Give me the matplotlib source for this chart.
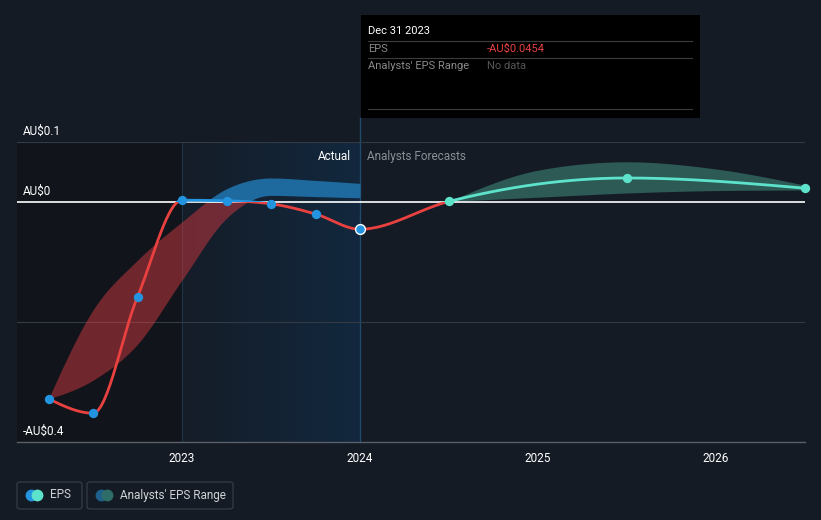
"""EPS history and analyst forecast chart, dark theme."""

import matplotlib

matplotlib.use("Agg")
import numpy as np
from matplotlib import pyplot as plt
from matplotlib.colors import LinearSegmentedColormap
from matplotlib.lines import Line2D
from matplotlib.patches import FancyBboxPatch, Rectangle

plt.rcParams["font.family"] = ["Roboto", "DejaVu Sans"]

# EPS (AU$), decimal years
eps_dates = [2022.25, 2022.5, 2022.75, 2023.0, 2023.25, 2023.5, 2023.75, 2024.0]
eps_values = [-0.328, -0.352, -0.158, 0.003, 0.002, -0.003, -0.020, -0.0454]

forecast_dates = [2024.0, 2024.5, 2025.5, 2026.5]
forecast_values = [-0.0454, 0.001, 0.040, 0.023]

# analysts' EPS range, past
range_dates = [2022.25, 2022.5, 2022.75, 2023.0, 2023.25, 2023.5, 2023.75, 2024.0]
range_high = [-0.328, -0.180, -0.097, -0.033, 0.022, 0.040, 0.036, 0.031]
range_low = [-0.328, -0.297, -0.237, -0.130, -0.027, 0.011, 0.009, 0.007]

# analysts' EPS range, forecast
frange_dates = [2024.5, 2025.0, 2025.5, 2026.0, 2026.5]
frange_high = [0.001, 0.053, 0.067, 0.055, 0.028]
frange_low = [0.001, 0.008, 0.015, 0.019, 0.020]

y_ticks = [0.1, 0.0, -0.4]
y_labels = ["AU$0.1", "AU$0", "-AU$0.4"]
x_ticks = [2023, 2024, 2025, 2026]

BG = "#151b24"
RED = "#e8413f"
BLUE = "#2394e0"
TEAL = "#5de3cb"
W, H = 821, 520


def smooth(xs, ys, n=300):
    """Monotone cubic curve through the points (like d3 curveMonotoneX)."""
    xs = np.asarray(xs, float)
    ys = np.asarray(ys, float)
    h = np.diff(xs)
    s = np.diff(ys) / h
    m = np.zeros_like(ys)
    for i in range(1, len(xs) - 1):
        p = (s[i - 1] * h[i] + s[i] * h[i - 1]) / (h[i - 1] + h[i])
        m[i] = (np.sign(s[i - 1]) + np.sign(s[i])) * min(
            abs(s[i - 1]), abs(s[i]), 0.5 * abs(p)
        )
    m[0] = (3 * s[0] - m[1]) / 2 if len(xs) > 2 else s[0]
    m[-1] = (3 * s[-1] - m[-2]) / 2 if len(xs) > 2 else s[-1]
    out_x, out_y = [], []
    for i in range(len(xs) - 1):
        t = np.linspace(0, 1, n // (len(xs) - 1) + 2)
        h00 = 2 * t**3 - 3 * t**2 + 1
        h10 = t**3 - 2 * t**2 + t
        h01 = -2 * t**3 + 3 * t**2
        h11 = t**3 - t**2
        out_x.append(xs[i] + t * h[i])
        out_y.append(h00 * ys[i] + h10 * h[i] * m[i] + h01 * ys[i + 1] + h11 * h[i] * m[i + 1])
    return np.concatenate(out_x), np.concatenate(out_y)


def px(x):
    return x / W


def py(y):
    return 1 - y / H


fig = plt.figure(figsize=(W / 100, H / 100), dpi=100, facecolor=BG)
ax = fig.add_axes([px(17), py(442), px(805) - px(17), py(142) - py(442)])
ax.set_facecolor(BG)
x_min, x_max = 2022.073, 2026.5
ax.set_xlim(x_min, x_max)
ax.set_ylim(-0.4, 0.1)

# background zones
ax.axvspan(x_min, 2023, color="#11151b", zorder=0, lw=0)
grad = LinearSegmentedColormap.from_list("hl", ["#151d28", "#12283e"])
ax.imshow(
    np.linspace(0, 1, 256).reshape(1, -1),
    extent=[2023, 2024, -0.4, 0.1],
    cmap=grad,
    aspect="auto",
    zorder=0.5,
)
ax.axvline(2023, color="#1d3447", lw=0.8, zorder=0.6)
ax.axvline(2024, ymin=0, ymax=(442 - 118) / 300, color="#1f4a6d", lw=1, zorder=0.6, clip_on=False)

for yv in (0.1, -0.2):
    ax.axhline(yv, color="#343a44", lw=0.8, zorder=1)
ax.axhline(-0.4, color="#5a5f68", lw=1, zorder=1, clip_on=False)
ax.axhline(0, color="white", lw=1.2, zorder=3)

below = Rectangle((x_min, -1), 10, 1, transform=ax.transData)
above_past = Rectangle((x_min, 0), 2024 - x_min, 1, transform=ax.transData)
above_fc = Rectangle((2024, 0), 5, 1, transform=ax.transData)

# past analyst range, coloured by sign
bx, bh = smooth(range_dates, range_high)
_, bl = smooth(range_dates, range_low)
band_red = ax.fill_between(bx, bl, bh, color="#dc3a42", alpha=0.47, lw=0, zorder=2)
band_red.set_clip_path(below)
band_blue = ax.fill_between(bx, bl, bh, color="#1e6a9e", lw=0, zorder=2)
band_blue.set_clip_path(above_past)

# forecast analyst range
fx, fh = smooth(frange_dates, frange_high)
_, fl = smooth(frange_dates, frange_low)
ax.fill_between(fx, fl, fh, color="#2d5a55", lw=0, zorder=2)

# EPS line, coloured by sign
ex, ey = smooth(eps_dates + forecast_dates[1:], eps_values + forecast_values[1:])
for color, clip in ((RED, below), (BLUE, above_past), (TEAL, above_fc)):
    (line,) = ax.plot(ex, ey, color=color, lw=2, zorder=4, solid_capstyle="round")
    line.set_clip_path(clip)

ax.scatter(eps_dates[:-1], eps_values[:-1], s=45, color=BLUE, zorder=5, lw=0)
ax.scatter(eps_dates[-1:], eps_values[-1:], s=50, color=BLUE, edgecolor="white", lw=1, zorder=6)
ax.scatter(forecast_dates[1:], forecast_values[1:], s=45, color=TEAL, zorder=5, lw=0, clip_on=False)

for side in ax.spines.values():
    side.set_visible(False)
ax.set_yticks([])
ax.set_xticks(x_ticks, [str(t) for t in x_ticks])
ax.tick_params(axis="x", length=0, pad=7, colors="white", labelsize=8.5)

for yv, label in zip(y_ticks, y_labels):
    ax.text(0.007, yv + 0.012, label, transform=ax.get_yaxis_transform(),
            color="white", fontsize=8.5, va="baseline", ha="left", zorder=7)

ax.text(2024 - 0.05, 0.076, "Actual", color="white", fontsize=8.5, ha="right", va="center")
ax.text(2024 + 0.04, 0.076, "Analysts Forecasts", color="#8a8f96", fontsize=8.5,
        ha="left", va="center")

# tooltip
fig.add_artist(Rectangle((px(361), py(118)), px(700) - px(361), py(15) - py(118),
                         transform=fig.transFigure, facecolor="black", edgecolor="none"))
for yl in (41, 58, 109):
    fig.add_artist(Line2D([px(368), px(692)], [py(yl), py(yl)], transform=fig.transFigure,
                          color="#3c3c3c", lw=0.8))
fig.text(px(368), py(31), "Dec 31 2023", color="white", fontsize=8, va="center")
fig.text(px(368), py(49), "EPS", color="#8a8a8a", fontsize=8, va="center")
fig.text(px(487), py(49), "-AU$0.0454", color="#e84142", fontsize=8, va="center")
fig.text(px(368), py(66), "Analysts' EPS Range", color="#8a8a8a", fontsize=8, va="center")
fig.text(px(487), py(66), "No data", color="#555555", fontsize=8, va="center")

# legend
for x0, x1 in ((17, 82), (87, 233)):
    fig.add_artist(FancyBboxPatch((px(x0), py(509)), px(x1) - px(x0), py(482) - py(509),
                                  boxstyle="round,pad=0,rounding_size=0.004",
                                  transform=fig.transFigure, facecolor="none",
                                  edgecolor="#3a404a", lw=0.8))
for x, c in ((31, BLUE), (37, TEAL), (101, "#1f5f8c"), (107, "#2f6d68")):
    fig.add_artist(Line2D([px(x)], [py(495)], transform=fig.transFigure, marker="o",
                          markersize=7.5, color=c, lw=0))
fig.text(px(50), py(495), "EPS", color="#cfd2d6", fontsize=8.5, va="center")
fig.text(px(120), py(495), "Analysts' EPS Range", color="#cfd2d6", fontsize=8.5, va="center")

fig.savefig("out.png", dpi=100, facecolor=BG)
